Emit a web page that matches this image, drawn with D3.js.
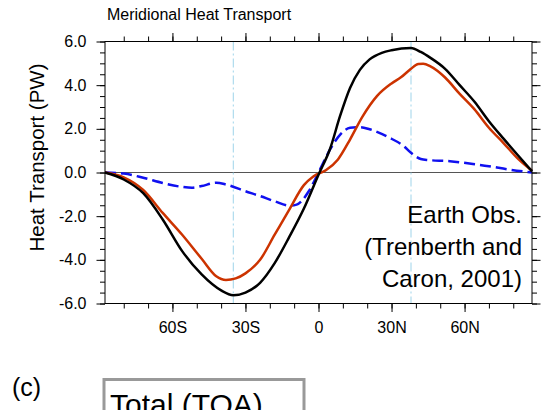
<!DOCTYPE html>
<html>
<head>
<meta charset="utf-8">
<script src="https://cdn.jsdelivr.net/npm/d3@7"></script>
<style>
  body { margin: 0; background: #fff; }
  svg { display: block; font-family: "Liberation Sans", Arial, Helvetica, sans-serif; }
</style>
</head>
<body>
<svg id="chart" width="544" height="410"></svg>
<script>
// Total (black) heat transport, PW
const totalLat = [-87.7, -80, -72, -64, -56, -48, -40, -35, -30, -24, -18, -12, -6, 0, 4.8, 8.9, 13, 17, 21, 26, 30, 38, 42, 46, 52, 58, 64, 70, 76, 82, 87.7];
const totalVal = [0, -0.32, -0.95, -2.15, -3.6, -4.67, -5.4, -5.62, -5.5, -5.05, -4.15, -2.95, -1.65, -0.1, 1.1, 2.6, 3.88, 4.7, 5.18, 5.48, 5.6, 5.7, 5.52, 5.25, 4.75, 4.0, 3.25, 2.35, 1.55, 0.78, 0.05];

// Atmosphere (red)
const atmosLat = [-87.7, -80, -72, -64, -56, -48, -42, -38, -34, -30, -24, -18, -12, -6, -2, 3, 8, 13, 18, 24, 30, 34, 38, 41, 43, 46, 52, 58, 64, 70, 76, 82, 87.7];
const atmosVal = [0, -0.22, -0.8, -1.85, -2.85, -3.95, -4.75, -4.92, -4.85, -4.62, -4.0, -2.85, -1.7, -0.58, -0.17, 0.1, 0.6, 1.52, 2.55, 3.5, 4.08, 4.37, 4.75, 4.97, 4.98, 4.86, 4.35, 3.6, 2.9, 2.05, 1.35, 0.62, 0.08];

// Ocean (blue dashed)
const oceanLat = [-87.7, -80, -72, -64, -56, -52, -48, -42, -38, -30, -24, -18, -12, -9, -4, 0, 5, 9, 13, 17, 21, 29, 35, 38, 42, 45, 54, 62, 70, 78, 87.7];
const oceanVal = [0, -0.05, -0.24, -0.48, -0.66, -0.7, -0.62, -0.47, -0.55, -0.86, -1.08, -1.32, -1.52, -1.47, -0.86, 0, 1.1, 1.75, 2.05, 2.08, 1.98, 1.6, 1.21, 0.9, 0.62, 0.57, 0.52, 0.41, 0.29, 0.14, 0];

// latitudes of the black curve extremes
const markLat = [-35, 38];

const xMajor = [-60, -30, 0, 30, 60];
const xMajorLabels = ["60S", "30S", "0", "30N", "60N"];
const xMinor = d3.range(-80, 81, 10);
const yMajor = [-6, -4, -2, 0, 2, 4, 6];
const yMinor = d3.range(-6, 6.01, 0.5);

const svg = d3.select("#chart");
const pLeft = 105, pRight = 532, pTop = 41.5, pBottom = 303.5;

const x = d3.scaleLinear().domain([-87.7, 87.7]).range([pLeft, pRight]);
const y = d3.scaleLinear().domain([-6, 6]).range([pBottom, pTop]);

// title
svg.append("text")
  .attr("x", 107).attr("y", 20)
  .attr("font-size", "16px")
  .text("Meridional Heat Transport");

// axes: minor then major
function addAxis(axisFn, translate, scale, minorVals, majorVals, fmt, labels) {
  const gMinor = svg.append("g").attr("transform", translate)
    .call(axisFn(scale).tickValues(minorVals).tickSize(5).tickFormat(""));
  gMinor.select(".domain").remove();
  const gMajor = svg.append("g").attr("transform", translate)
    .call(axisFn(scale).tickValues(majorVals).tickSize(8.5).tickPadding(10).tickFormat(labels ? fmt : ""));
  gMajor.select(".domain").remove();
  gMajor.selectAll("text").attr("font-size", "16px").attr("fill", "#000")
    .attr("font-family", "'Liberation Sans', Arial, Helvetica, sans-serif");
  svg.selectAll(".tick line").attr("stroke", "#000");
}

const xFmt = d => xMajorLabels[xMajor.indexOf(d)];
const yFmt = d => d.toFixed(1);

addAxis(d3.axisBottom, `translate(0,${pBottom})`, x, xMinor, xMajor, xFmt, true);
addAxis(d3.axisTop, `translate(0,${pTop})`, x, xMinor, xMajor, xFmt, false);
addAxis(d3.axisLeft, `translate(${pLeft},0)`, y, yMinor, yMajor, yFmt, true);
addAxis(d3.axisRight, `translate(${pRight},0)`, y, yMinor, yMajor, yFmt, false);

// y axis title
svg.append("text")
  .attr("transform", `translate(44,${(pTop + pBottom) / 2 - 15}) rotate(-90)`)
  .attr("text-anchor", "middle")
  .attr("font-size", "20.5px")
  .text("Heat Transport (PW)");

// zero line
svg.append("line")
  .attr("x1", pLeft).attr("x2", pRight)
  .attr("y1", y(0)).attr("y2", y(0))
  .attr("stroke", "#555").attr("stroke-width", 1);

// vertical marker lines
svg.selectAll(".mark").data(markLat).enter().append("line")
  .attr("x1", d => x(d)).attr("x2", d => x(d))
  .attr("y1", pTop).attr("y2", pBottom)
  .attr("stroke", "#9fd4ea").attr("stroke-width", 1)
  .attr("stroke-dasharray", "9,3,2,3");

const line = d3.line()
  .x(d => x(d[0])).y(d => y(d[1]))
  .curve(d3.curveMonotoneX);

const series = [
  { lat: oceanLat, val: oceanVal, color: "#1010f0", dash: "11,5" },
  { lat: atmosLat, val: atmosVal, color: "#cc3300", dash: null },
  { lat: totalLat, val: totalVal, color: "#000000", dash: null }
];

series.forEach(s => {
  svg.append("path")
    .datum(d3.zip(s.lat, s.val))
    .attr("fill", "none")
    .attr("stroke", s.color)
    .attr("stroke-width", 2.5)
    .attr("stroke-dasharray", s.dash)
    .attr("d", line);
});

// frame
svg.append("rect")
  .attr("x", pLeft).attr("y", pTop)
  .attr("width", pRight - pLeft).attr("height", pBottom - pTop)
  .attr("fill", "none").attr("stroke", "#000").attr("stroke-width", 1);

// annotation
const note = ["Earth Obs.", "(Trenberth and", "Caron, 2001)"];
svg.selectAll(".note").data(note).enter().append("text")
  .attr("x", 522).attr("y", (d, i) => 223 + i * 32)
  .attr("text-anchor", "end")
  .attr("font-size", "24px")
  .text(d => d);

// next panel header (cut off by the page edge, as in the source)
svg.append("text")
  .attr("x", 12).attr("y", 396)
  .attr("font-size", "25px")
  .text("(c)");

svg.append("rect")
  .attr("x", 104).attr("y", 379.5)
  .attr("width", 200).attr("height", 60)
  .attr("fill", "none").attr("stroke", "#999").attr("stroke-width", 3);

svg.append("text")
  .attr("x", 110).attr("y", 415)
  .attr("font-size", "30px")
  .text("Total (TOA)");
</script>
</body>
</html>
